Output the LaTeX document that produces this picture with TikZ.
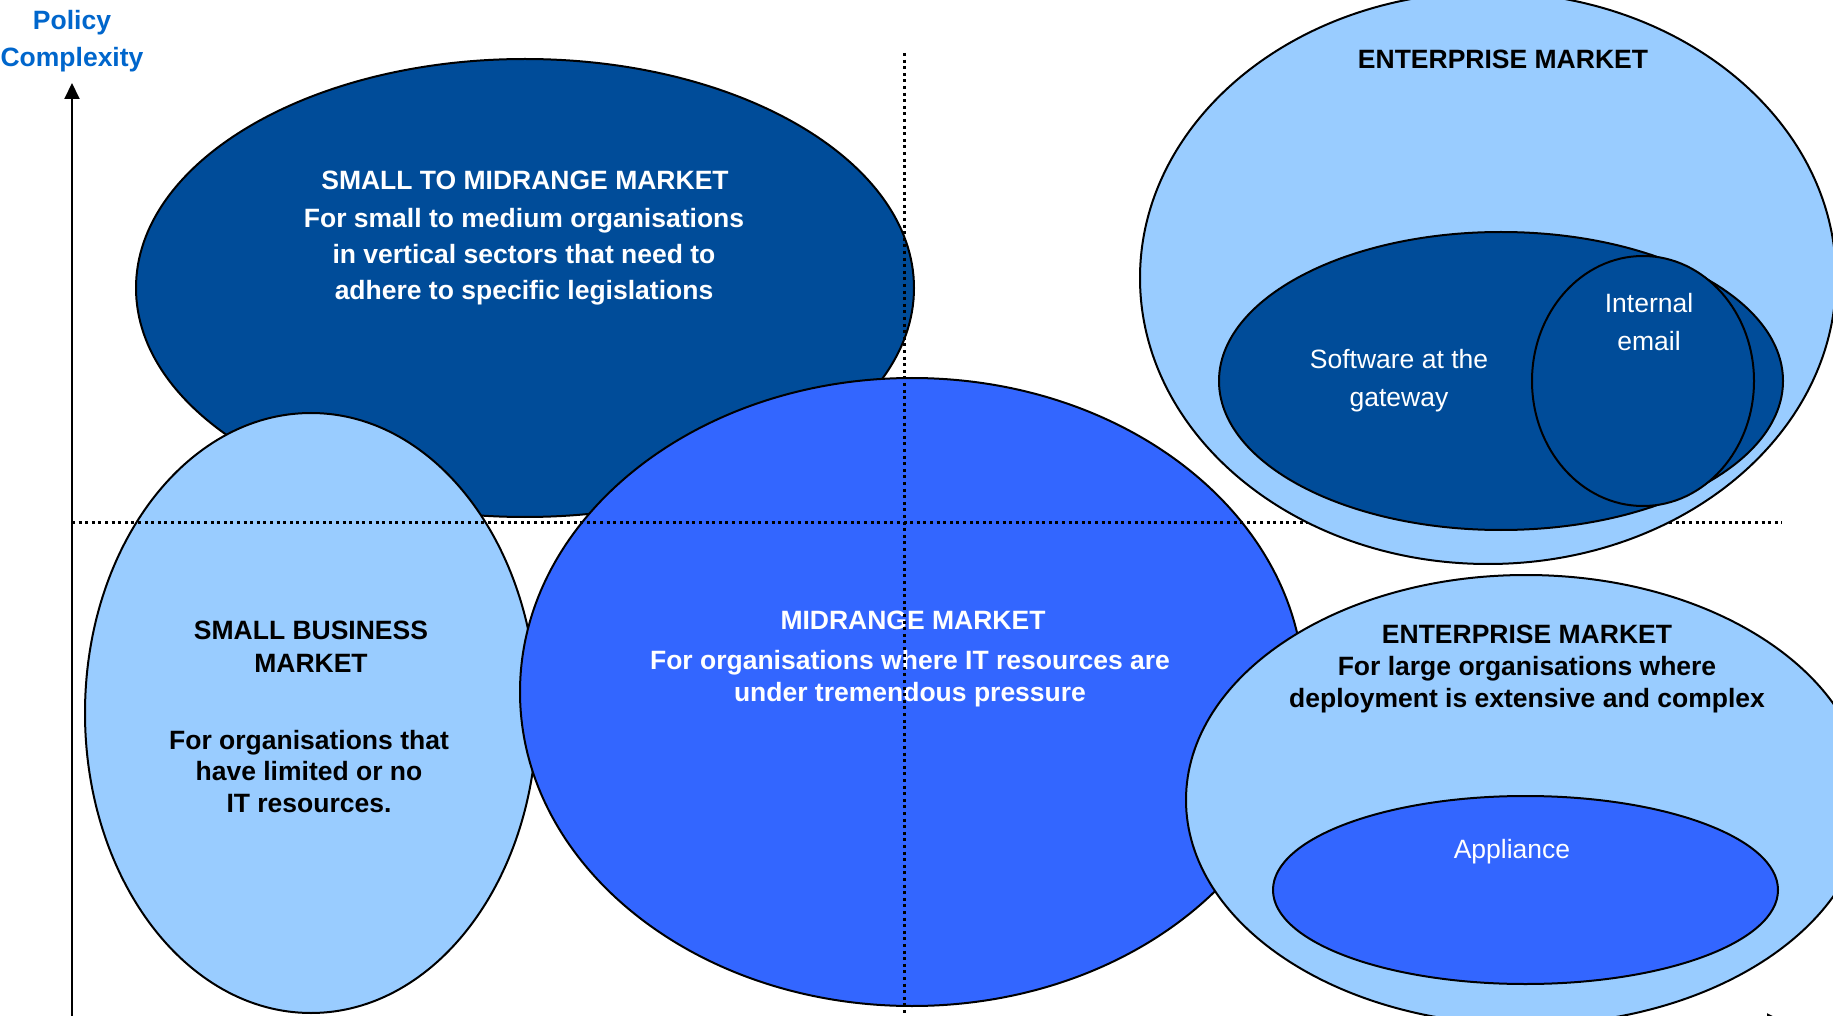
\documentclass[tikz,border=0pt]{standalone}
\usepackage{fontspec}
\setmainfont{Liberation Sans}
\usetikzlibrary{shapes.geometric,arrows.meta}

\definecolor{darkblue}{HTML}{004C99}
\definecolor{midblue}{HTML}{3366FF}
\definecolor{lightblue}{HTML}{99CCFF}
\definecolor{axisblue}{HTML}{0066CC}

\tikzset{
    bubble/.style={ellipse, draw=black, line width=1pt, inner sep=0pt},
    boldtext/.style={font=\fontsize{13.25}{#1}\selectfont\bfseries, align=center, inner sep=0pt},
    boldtext/.default=16pt,
    plaintext/.style={font=\fontsize{13.25}{19pt}\selectfont, align=center, inner sep=0pt, text=white},
    gridline/.style={line width=1.5pt, dash pattern=on 1.5pt off 1.8pt},
    axis/.style={line width=1pt, -{Triangle[length=8pt,width=7.5pt]}}
}

\begin{document}
\begin{tikzpicture}[x=0.5pt,y=-0.5pt]
    \useasboundingbox (0,0) rectangle (1833,1016);

    % axes
    \coordinate (origin) at (72,1021);
    \coordinate (ytip) at (72,83);
    \coordinate (xtip) at (1783,1021);
    \draw[axis] (origin) -- (ytip);
    \draw[axis] (origin) -- (xtip);
    \node[boldtext=18.5pt, text=axisblue] (ylabel) at (72,41) {Policy\\Complexity};

    % left and middle markets
    \node[bubble, fill=darkblue, minimum width=389pt, minimum height=229pt] (smallmid) at (525,288) {};
    \node[boldtext, text=white] (smallmidhead) at (525,180) {SMALL TO MIDRANGE MARKET};
    \node[boldtext=18pt, text=white] (smallmidtext) at (524,257) {For small to medium organisations\\in vertical sectors that need to\\adhere to specific legislations};

    \node[bubble, fill=lightblue, minimum width=226pt, minimum height=300pt] (smallbiz) at (311,713) {};
    \node[boldtext=16.5pt] (smallbizhead) at (311,646.5) {SMALL BUSINESS\\MARKET};
    \node[boldtext=15.75pt] (smallbiztext) at (309,771.5) {For organisations that\\have limited or no\\IT resources.};

    \node[bubble, fill=midblue, minimum width=392pt, minimum height=314pt] (midrange) at (912,692) {};
    \node[boldtext, text=white] (midrangehead) at (913,620) {MIDRANGE MARKET};
    \node[boldtext, text=white] (midrangetext) at (910,678.5) {For organisations where IT resources are\\under tremendous pressure};

    % quadrant lines
    \coordinate (vtop) at (904,53);
    \coordinate (vbot) at (904,1016);
    \coordinate (hleft) at (72,522);
    \coordinate (hright) at (1782,522);
    \draw[gridline] (vtop) -- (vbot);
    \draw[gridline] (hleft) -- (hright);

    % enterprise markets
    \node[bubble, fill=lightblue, minimum width=348pt, minimum height=286pt] (enttop) at (1488,278) {};
    \node[boldtext] (enttophead) at (1503,59) {ENTERPRISE MARKET};
    \node[bubble, fill=darkblue, minimum width=282pt, minimum height=149pt] (gateway) at (1501,381) {};
    \node[plaintext] (gatewaytext) at (1399,380.5) {Software at the\\gateway};
    \node[bubble, fill=darkblue, minimum width=111pt, minimum height=125pt] (email) at (1643,381) {};
    \node[plaintext] (emailtext) at (1649,322) {Internal\\email};

    \node[bubble, fill=lightblue, minimum width=340pt, minimum height=225pt] (entbot) at (1526,800) {};
    \node[boldtext] (entbothead) at (1527,634) {ENTERPRISE MARKET};
    \node[boldtext] (entbottext) at (1527,684.5) {For large organisations where\\deployment is extensive and complex};
    \node[bubble, fill=midblue, minimum width=252.5pt, minimum height=94pt] (appliance) at (1525.5,890) {};
    \node[plaintext] (appliancetext) at (1512,851.5) {Appliance};
\end{tikzpicture}
\end{document}
